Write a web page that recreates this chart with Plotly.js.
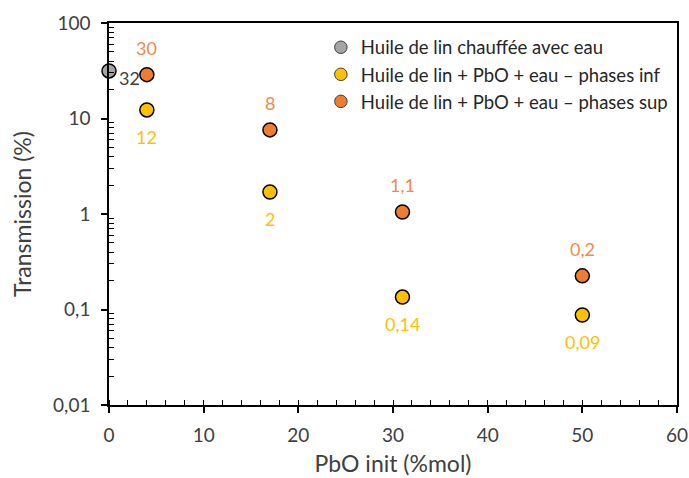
<!DOCTYPE html>
<html><head><meta charset="utf-8">
<script src="https://cdn.plot.ly/plotly-3.0.1.min.js"></script>
<style>body{margin:0}#c{width:689px;height:478px}</style>
</head><body><div id="c"></div>
<script>
// Data
var grayName = "Huile de lin chauffée avec eau";
var grayX = [0];
var grayY = [31.5];
var grayLabels = ["32"];

var infName = "Huile de lin + PbO + eau \u2013 phases inf";
var infX = [4, 17, 31, 50];
var infY = [12.3, 1.7, 0.135, 0.0875];
var infLabels = ["12", "2", "0,14", "0,09"];

var supName = "Huile de lin + PbO + eau \u2013 phases sup";
var supX = [4, 17, 31, 50];
var supY = [28.8, 7.6, 1.05, 0.225];
var supLabels = ["30", "8", "1,1", "0,2"];

var yTickVals = [0.01, 0.1, 1, 10, 100];
var yTickText = ["0,01", "0,1", "1", "10", "100"];

var FONT = "Lato, 'Open Sans', sans-serif";
var minorY = [];
[0.01, 0.1, 1, 10].forEach(function(d){ for (var k = 2; k <= 9; k++) minorY.push(d * k); });

function mk(x, y, name, color) {
  return {x: x, y: y, name: name, type: 'scatter', mode: 'markers', showlegend: false,
    marker: {size: 14, color: color, line: {color: '#000', width: 1.5}},
    cliponaxis: false};
}
function lg(name, color) {
  return {x: [null], y: [null], name: name, type: 'scatter', mode: 'markers',
    marker: {size: 12.5, color: color, line: {color: '#404040', width: 1}}};
}
var traces = [
  mk(grayX, grayY, grayName, '#A5A5A5'),
  mk(infX, infY, infName, '#FFC000'),
  mk(supX, supY, supName, '#ED7D31'),
  lg(grayName, '#A5A5A5'),
  lg(infName, '#FFC000'),
  lg(supName, '#ED7D31')
];

var ann = [];
function addLabels(x, y, t, color, xs, ys) {
  for (var i = 0; i < x.length; i++) {
    ann.push({x: x[i], y: Math.log10(y[i]), text: t[i], showarrow: false,
      xshift: xs, yshift: ys, font: {family: FONT, size: 18, color: color}});
  }
}
addLabels(supX, supY, supLabels, '#F08A4B', 0, 27);
addLabels(infX, infY, infLabels, '#FFC000', 0, -27);
addLabels(grayX, grayY, grayLabels, '#404040', 20, -7);

var layout = {
  width: 689, height: 478,
  margin: {l: 109, r: 12, t: 23, b: 73},
  paper_bgcolor: '#fff', plot_bgcolor: '#fff',
  font: {family: FONT, size: 18, color: '#404040'},
  showlegend: true,
  legend: {x: 0.373, y: 0.985, xanchor: 'left', yanchor: 'top',
    bgcolor: 'rgba(0,0,0,0)', font: {family: FONT, size: 18.5, color: '#262626'},
    itemsizing: 'trace', tracegroupgap: 0, itemwidth: 30},
  xaxis: {range: [0, 60], dtick: 10, tick0: 0, showgrid: false, zeroline: false,
    showline: true, linecolor: '#000', linewidth: 1.5, mirror: true,
    ticks: 'outside', ticklen: 6, tickwidth: 1.5, tickcolor: '#000', ticklabelstandoff: 6,
    minor: {dtick: 2, ticks: 'inside', ticklen: 5, tickwidth: 1.2, tickcolor: '#000', showgrid: false},
    tickfont: {family: FONT, size: 19, color: '#404040'},
    title: {text: 'PbO init (%mol)', font: {family: FONT, size: 23, color: '#404040'}, standoff: 11}},
  yaxis: {type: 'log', range: [-2, 2], tickvals: yTickVals, ticktext: yTickText,
    showgrid: false, zeroline: false,
    showline: true, linecolor: '#000', linewidth: 1.5, mirror: true,
    ticks: 'outside', ticklen: 6, tickwidth: 1.5, tickcolor: '#000', ticklabelstandoff: 7,
    minor: {tickvals: minorY, ticks: 'inside', ticklen: 5, tickwidth: 1.2, tickcolor: '#000', showgrid: false},
    tickfont: {family: FONT, size: 19, color: '#404040'},
    title: {text: 'Transmission (%)', font: {family: FONT, size: 23, color: '#404040'}, standoff: 15}},
  annotations: ann
};
Plotly.newPlot('c', traces, layout, {displayModeBar: false});
</script>
</body></html>
